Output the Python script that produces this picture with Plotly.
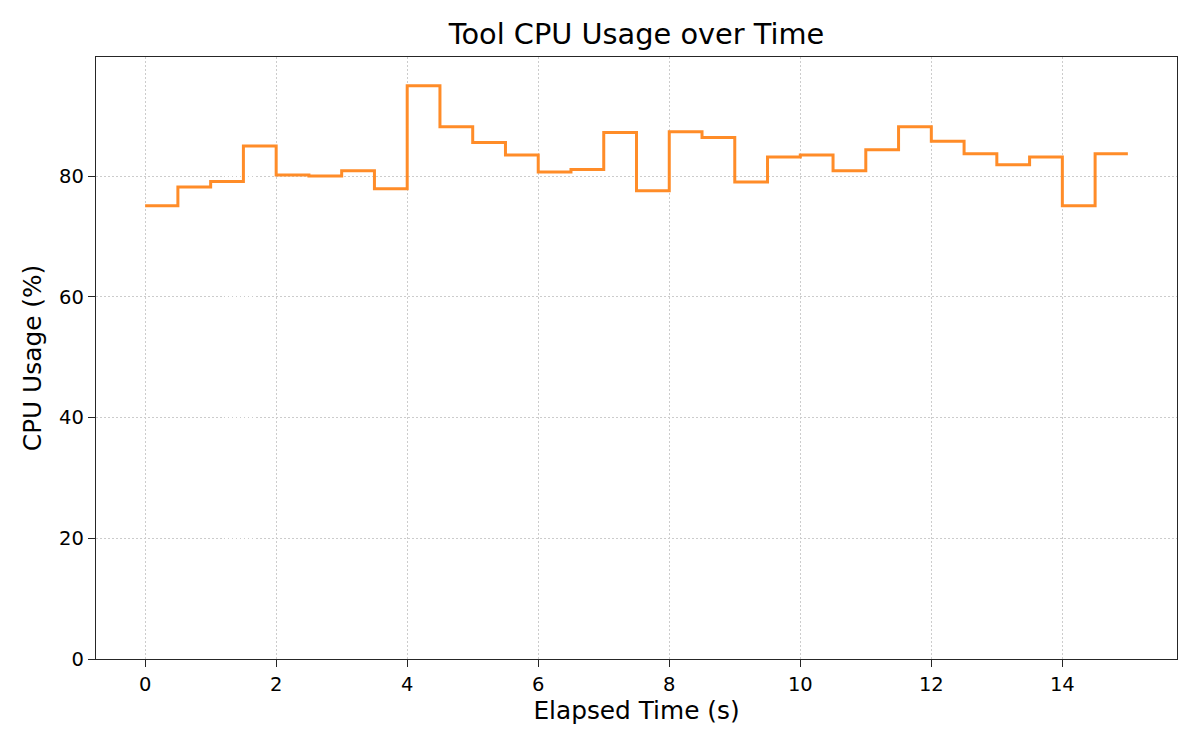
import plotly.graph_objects as go

# CPU usage sampled every 0.5 s
elapsed_s = [i * 0.5 for i in range(31)]
cpu_pct = [75.1, 78.2, 79.1, 85.0, 80.2, 80.05, 80.9, 77.9,
           95.0, 88.2, 85.6, 83.5, 80.7, 81.1, 87.25, 77.6,
           87.35, 86.4, 79.05, 83.2, 83.5, 80.9, 84.4, 88.2,
           85.8, 83.7, 81.9, 83.2, 75.1, 83.7, 83.7]
x_ticks = [0, 2, 4, 6, 8, 10, 12, 14]
y_ticks = [0, 20, 40, 60, 80]

font_family = "DejaVu Sans"
axis_color = "#262626"

# page body has an 8px margin, so the figure is a bit smaller than the window
fig_w, fig_h = 1184, 734

fig = go.Figure()

fig.add_trace(go.Scatter(
    x=elapsed_s,
    y=cpu_pct,
    mode="lines",
    line=dict(color="#ff8c28", width=3, shape="hv"),
    showlegend=False,
))

axis_common = dict(
    showline=True,
    mirror=True,
    linecolor=axis_color,
    linewidth=1.3,
    ticks="outside",
    ticklen=7,
    tickwidth=1.3,
    tickcolor=axis_color,
    showgrid=True,
    gridcolor="#cccccc",
    griddash="1.5px,2.5px",
    gridwidth=1,
    zeroline=False,
    tickfont=dict(size=19.5, color="black", family=font_family),
)

fig.update_layout(
    width=fig_w,
    height=fig_h,
    paper_bgcolor="white",
    plot_bgcolor="white",
    margin=dict(l=88, r=15, t=49, b=83),
    title=dict(
        text="Tool CPU Usage over Time",
        xref="paper",
        x=0.5,
        xanchor="center",
        y=1 - 26 / fig_h,
        yanchor="middle",
        font=dict(size=28.8, color="black", family=font_family),
    ),
    xaxis=dict(
        range=[-0.75, 15.75],
        tickvals=x_ticks,
        title=dict(text="Elapsed Time (s)", standoff=6,
                   font=dict(size=24.8, color="black", family=font_family)),
        **axis_common,
    ),
    yaxis=dict(
        range=[0, 99.75],
        tickvals=y_ticks,
        title=dict(text="CPU Usage (%)", standoff=10,
                   font=dict(size=24.8, color="black", family=font_family)),
        **axis_common,
    ),
)

fig.write_html("out.html")
